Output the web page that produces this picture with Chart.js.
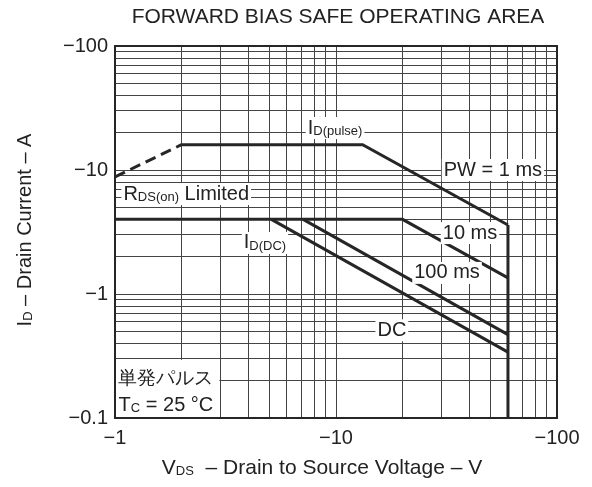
<!DOCTYPE html>
<html><head><meta charset="utf-8">
<script src="https://cdn.jsdelivr.net/npm/chart.js@4"></script>
<style>html,body{margin:0;padding:0;background:#fff}#wrap{width:592px;height:487px;position:relative}</style>
</head><body><div id="wrap"><canvas id="c" width="592" height="487"></canvas></div>
<script>
// Data (magnitudes; axes show negative sign)
const rdsV = [1, 2];           const rdsI = [8.8, 16];
const pulseV = [2, 13.2, 60];  const pulseI = [16, 16, 3.6];
const ms10V = [1, 20, 60];     const ms10I = [4, 4, 1.35];
const ms100V = [7.1, 60];      const ms100I = [4, 0.47];
const dcV = [5.1, 60];         const dcI = [4, 0.34];
const limV = [60, 60];         const limI = [3.6, 0.1];
const xTickLabels = ['−1', '−10', '−100'];
const yTickLabels = ['−0.1', '−1', '−10', '−100'];
const title = 'FORWARD BIAS SAFE OPERATING AREA';
// annotation labels: [parts, x, y, whiteBg]
const notes = [
  [[['I',20],['D(pulse)',13]], 9.9, 21.8, true],
  [[['PW = 1 ms',20]], 51.3, 10, true],
  [[['R',20],['DS(on)',13],[' Limited',20]], 2.1, 6.4, true],
  [[['I',20],['D(DC)',13]], 4.77, 2.58, true],
  [[['10 ms',20]], 40.4, 3.1, true],
  [[['100 ms',20]], 31.8, 1.48, true],
  [[['DC',20]], 17.9, 0.51, true],
  [[['単発パルス',19]], 1.7, 0.206, false],
  [[['T',20],['C',13],[' = 25 °C',20]], 1.7, 0.127, false]
];
const boxX = [1, 3], boxY = [0.1, 0.3];

const pts = (xs, ys) => xs.map((x, i) => ({x, y: ys[i]}));
const C = '#262626';
const FONT = '"Liberation Sans", Arial, sans-serif';
function ds(xs, ys, dash) {
  return {data: pts(xs, ys), borderColor: C, borderWidth: 3, pointRadius: 0, showLine: true, fill: false, borderDash: dash || [], tension: 0, borderCapStyle: 'butt'};
}
function logTicks(min, max) {
  const t = [];
  for (let d = min; d < max; d *= 10) for (let k = 1; k < 10; k++) t.push({value: +(d * k).toPrecision(3)});
  t.push({value: max});
  return t;
}
function drawParts(ctx, parts, cx, cy, bg) {
  let w = 0;
  const ms = parts.map(([t, s]) => { ctx.font = s + 'px ' + FONT; const m = ctx.measureText(t).width; w += m; return m; });
  let x = cx - w / 2;
  if (bg) { ctx.fillStyle = '#fff'; ctx.fillRect(x - 2, cy - 11, w + 4, 22); }
  ctx.fillStyle = '#222'; ctx.textBaseline = 'middle'; ctx.textAlign = 'left';
  parts.forEach(([t, s], i) => {
    ctx.font = s + 'px ' + FONT;
    ctx.fillText(t, x, s < 15 ? cy + 3 : cy);
    x += ms[i];
  });
}
const overlay = {
  id: 'overlay',
  beforeDatasetsDraw(chart) {
    const {ctx, scales: {x, y}} = chart;
    ctx.save(); ctx.fillStyle = '#fff';
    const x0 = x.getPixelForValue(boxX[0]) + 1, x1 = x.getPixelForValue(boxX[1]) - 1;
    const y0 = y.getPixelForValue(boxY[1]) + 1, y1 = y.getPixelForValue(boxY[0]) - 1;
    ctx.fillRect(x0, y0, x1 - x0, y1 - y0);
    ctx.restore();
  },
  afterDatasetsDraw(chart) {
    const {ctx, scales: {x, y}, chartArea: a} = chart;
    ctx.save();
    notes.forEach(([parts, vx, vy, bg]) => drawParts(ctx, parts, x.getPixelForValue(vx), y.getPixelForValue(vy), bg));
    ctx.strokeStyle = C; ctx.lineWidth = 2;
    ctx.strokeRect(a.left, a.top, a.right - a.left, a.bottom - a.top);
    // title
    ctx.fillStyle = '#222'; ctx.textAlign = 'center'; ctx.textBaseline = 'middle';
    ctx.font = '21px ' + FONT;
    ctx.fillText(title, 338, 17);
    // x title
    drawParts(ctx, [['V',21],['DS',13],['  – Drain to Source Voltage – V',21]], 322, 468, false);
    // y title
    ctx.translate(25, 230); ctx.rotate(-Math.PI / 2);
    drawParts(ctx, [['I',20],['D',13],[' – Drain Current – A',20]], 0, 0, false);
    ctx.restore();
  }
};
new Chart(document.getElementById('c'), {
  type: 'scatter',
  data: {datasets: [ds(rdsV, rdsI, [11, 6]), ds(pulseV, pulseI), ds(ms10V, ms10I), ds(ms100V, ms100I), ds(dcV, dcI), ds(limV, limI)]},
  options: {
    responsive: false, animation: false, devicePixelRatio: 1,
    layout: {padding: {top: 46, right: 35, left: 0, bottom: 0}},
    plugins: {legend: {display: false}, tooltip: {enabled: false}},
    scales: {
      x: {type: 'logarithmic', min: 1, max: 100,
        afterBuildTicks: s => { s.ticks = logTicks(1, 100); },
        afterFit: s => { s.height = 69; },
        grid: {color: '#444', lineWidth: 1, tickLength: 0, drawTicks: false},
        border: {display: false},
        ticks: {autoSkip: false, maxRotation: 0, padding: 8, color: '#222', font: {size: 20, family: FONT},
          callback: v => { const i = [1, 10, 100].indexOf(v); return i >= 0 ? xTickLabels[i] : ''; }}},
      y: {type: 'logarithmic', min: 0.1, max: 100,
        afterBuildTicks: s => { s.ticks = logTicks(0.1, 100); },
        afterFit: s => { s.width = 115; },
        grid: {color: '#444', lineWidth: 1, tickLength: 0, drawTicks: false},
        border: {display: false},
        ticks: {autoSkip: false, padding: 7, color: '#222', font: {size: 20, family: FONT},
          callback: v => { const i = [0.1, 1, 10, 100].indexOf(v); return i >= 0 ? yTickLabels[i] : ''; }}}
    }
  },
  plugins: [overlay]
});
</script></body></html>
